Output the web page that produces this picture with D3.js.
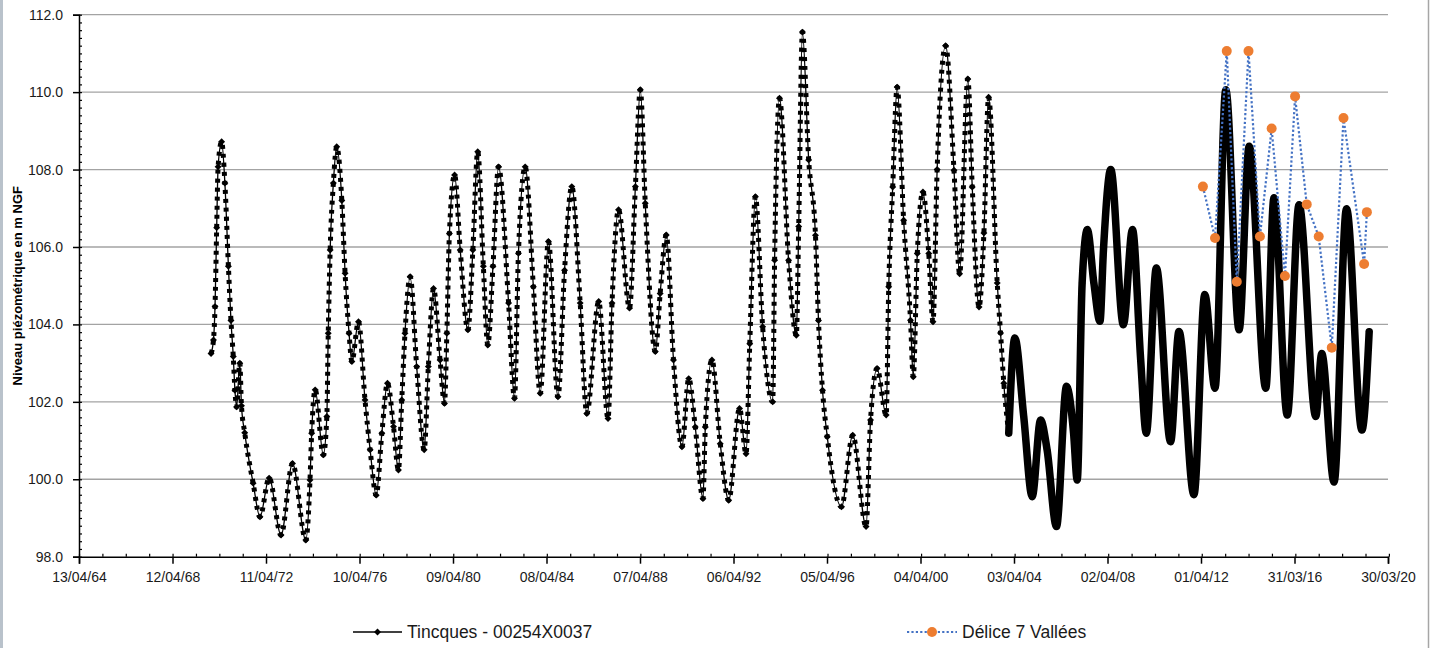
<!DOCTYPE html>
<html>
<head>
<meta charset="utf-8">
<script src="https://cdn.jsdelivr.net/npm/d3@7"></script>
<style>
  body { margin: 0; background: #fff; }
  svg { display: block; font-family: "Liberation Sans", Arial, sans-serif; }
</style>
</head>
<body>
<main></main>
<script>
// Tincques - 00254X0037 : readings (date, level in m NGF)
const tincquesDates = [
  "1969-12-05","1970-01-12","1970-02-05","1970-03-03","1970-03-25","1970-05-19","1970-07-09","1970-09-02",
  "1970-10-12","1970-11-17","1970-12-13","1971-01-08","1971-02-27","1971-03-25","1971-05-15","1971-09-23",
  "1972-01-08","1972-05-30","1972-12-02","1973-05-30","1973-12-24","1974-02-27","1974-03-25","1974-05-19",
  "1974-09-23","1974-11-17","1974-12-09","1975-01-08","1975-02-27","1975-04-20","1975-07-09","1975-08-29",
  "1975-10-30","1975-12-13","1976-03-25","1976-07-05","1976-09-23","1976-12-27","1977-03-25","1977-06-21",
  "1977-09-23","1977-12-09","1978-01-30","1978-03-21","1978-06-10","1978-09-20","1979-01-15","1979-03-21",
  "1979-06-10","1979-09-20","1979-11-28","1980-01-04","1980-02-13","1980-05-04","1980-07-31","1980-11-28",
  "1981-02-13","1981-04-30","1981-07-27","1981-10-04","1981-12-24","1982-03-21","1982-08-25","1982-11-25",
  "1983-01-26","1983-05-11","1983-09-16","1984-01-01","1984-05-08","1984-10-04","1985-01-15","1985-05-08",
  "1985-09-16","1985-12-28","1986-07-02","1986-11-25","1987-01-26","1987-05-08","1987-10-26","1988-01-26",
  "1988-04-12","1988-06-28","1988-12-02","1989-02-16","1989-05-22","1989-09-12","1990-01-22","1990-05-08",
  "1990-08-18","1990-12-16","1991-01-22","1991-05-05","1991-09-12","1992-01-22","1992-07-09","1992-10-19",
  "1992-12-16","1993-03-14","1993-07-05","1993-12-09","1994-01-08","1994-03-25","1994-08-14","1994-12-13",
  "1995-01-19","1995-03-18","1995-06-24","1995-10-08","1995-11-24","1996-01-26","1996-04-09","1996-11-17",
  "1997-05-12","1997-12-06","1998-02-14","1998-05-27","1998-10-16","1998-11-25","1999-01-26","1999-04-05",
  "1999-07-16","1999-10-31","1999-12-13","2000-02-14","2000-05-12","2000-08-11","2000-10-16","2000-12-20",
  "2001-05-01","2001-09-09","2001-12-06","2002-04-13","2002-06-21","2002-10-05","2002-12-20","2003-03-03",
  "2003-07-16","2003-09-06","2003-10-27","2004-01-12","2004-04-16","2004-09-02","2005-01-12","2005-05-23",
  "2005-09-02","2006-01-26","2006-07-02","2006-10-20","2006-12-16","2007-03-03","2007-05-23","2007-09-02",
  "2007-12-06","2008-01-30","2008-05-23","2008-12-06","2009-04-27","2009-09-02","2009-11-28","2010-05-05",
  "2010-12-13","2011-04-23","2011-12-13","2012-05-30","2012-11-06","2013-04-23","2013-11-17","2014-04-23",
  "2015-01-08","2015-05-15","2015-12-09","2016-06-10","2017-02-27","2017-05-30","2017-12-09","2018-06-21",
  "2019-02-16","2019-06-10"
];
const tincquesLevels = [
  103.25,103.6,104.46,106.5,108.07,108.72,107.65,105.5,
  104.1,103.17,102.3,101.87,103.0,101.9,101.2,99.9,
  99.03,100.03,98.56,100.41,98.43,99.98,101.19,102.31,
  100.63,101.62,103.77,105.92,107.65,108.59,107.2,105.32,
  103.77,103.04,104.07,102.05,100.76,99.59,101.19,102.48,
  101.36,100.24,102.05,103.77,105.23,102.91,100.76,102.91,
  104.93,103.08,101.96,103.77,106.35,107.86,105.92,103.86,
  105.92,108.46,105.5,103.47,105.5,108.07,104.55,102.09,
  105.84,108.07,104.97,102.22,106.14,102.13,105.4,107.56,
  104.55,101.7,104.59,101.57,104.55,106.96,104.42,107.56,
  110.06,107.13,103.3,104.8,106.31,103.08,100.84,102.6,
  101.35,99.5,101.35,103.08,100.92,99.46,101.83,100.66,
  103.5,107.3,103.94,102.0,105.66,109.84,105.66,103.72,
  106.53,111.55,108.25,106.3,104.1,102.3,101.1,99.29,
  101.14,98.78,101.53,102.86,101.66,104.97,107.55,110.13,
  106.69,104.11,102.65,105.83,107.42,105.83,104.07,108.0,
  111.2,107.98,105.31,110.34,107.55,104.45,106.36,109.87,
  105.07,103.78,102.48,101.19,103.65,101.62,99.55,101.53,
  100.76,98.78,102.4,101.2,99.98,105.07,106.45,105.07,
  104.08,105.93,108.0,103.99,106.45,103.09,101.19,105.46,
  100.97,103.82,99.6,104.77,102.35,110.06,103.86,108.6,
  102.35,107.27,101.66,107.09,101.62,103.25,99.93,106.99,
  101.27,103.81
];

// Délice 7 Vallées
const deliceDates = [
  "2012-05-01","2012-11-06","2013-05-08","2013-10-12","2014-04-13","2014-10-08","2015-04-09","2015-11-03",
  "2016-04-09","2016-10-08","2017-04-13","2017-11-03","2018-05-05","2019-03-23","2019-05-05"
];
const deliceLevels = [
  107.56,106.23,111.06,105.10,111.06,106.27,109.06,105.25,
  109.89,107.1,106.27,103.40,109.33,105.56,106.9
];

const seriesNames = ["Tincques - 00254X0037", "Délice 7 Vallées"];
const yTitle = "Niveau piézométrique en m NGF";

// axis ticks
const xTickDates = [
  "1964-04-13","1968-04-12","1972-04-11","1976-04-10","1980-04-09","1984-04-08","1988-04-07","1992-04-06",
  "1996-04-05","2000-04-04","2004-04-03","2008-04-02","2012-04-01","2016-03-31","2020-03-30"
];
const yTickValues = [98, 100, 102, 104, 106, 108, 110, 112];

// daily measurements start here: the markers merge into a thick band
const denseFrom = "2004-01-12";

const parse = d3.utcParse("%Y-%m-%d");
const tincques = tincquesDates.map((d, i) => ({ date: parse(d), value: tincquesLevels[i] }));
const delice = deliceDates.map((d, i) => ({ date: parse(d), value: deliceLevels[i] }));
const xTicks = xTickDates.map(parse);

const width = 1431, height = 648;
const plotLeft = 79, plotRight = 1388, plotTop = 14.7, plotBottom = 556.7;

const svg = d3.select("main").append("svg")
  .attr("width", width)
  .attr("height", height);

svg.append("rect").attr("width", width).attr("height", height).attr("fill", "#fff");

// window edges visible in the screenshot
svg.append("rect").attr("x", 0).attr("y", 0).attr("width", 3).attr("height", height).attr("fill", "#b9c2cb");
svg.append("line").attr("x1", 1428.5).attr("x2", 1428.5).attr("y1", 0).attr("y2", height)
  .attr("stroke", "#a6a6a6").attr("stroke-width", 1.5);

const x = d3.scaleUtc()
  .domain([xTicks[0], xTicks[xTicks.length - 1]])
  .range([plotLeft, plotRight]);

const y = d3.scaleLinear()
  .domain([98, 112])
  .range([plotBottom, plotTop]);

// gridlines
svg.append("g").selectAll("line")
  .data(yTickValues.slice(1))
  .enter().append("line")
  .attr("x1", plotLeft).attr("x2", plotRight)
  .attr("y1", d => y(d)).attr("y2", d => y(d))
  .attr("stroke", "#a3a3a3").attr("stroke-width", 1.3);

// minor ticks (inside)
const yMinor = d3.range(98, 112.001, 0.2);
svg.append("g").attr("transform", `translate(${plotLeft},0)`)
  .call(d3.axisLeft(y).tickValues(yMinor).tickSize(-3).tickFormat(""))
  .call(g => g.select(".domain").remove())
  .selectAll("line").attr("stroke", "#000").attr("stroke-width", 1.2);

const xMinor = [];
for (let k = 0; k <= 56; k++) xMinor.push(new Date(xTicks[0].getTime() + k * 365.25 * 864e5));
svg.append("g").attr("transform", `translate(0,${plotBottom})`)
  .call(d3.axisBottom(x).tickValues(xMinor).tickSize(-3).tickFormat(""))
  .call(g => g.select(".domain").remove())
  .selectAll("line").attr("stroke", "#000").attr("stroke-width", 1.2);

// major axes
const yAxis = svg.append("g").attr("transform", `translate(${plotLeft},0)`)
  .call(d3.axisLeft(y).tickValues(yTickValues).tickSize(6).tickPadding(10).tickFormat(d3.format(".1f")));
const xAxis = svg.append("g").attr("transform", `translate(0,${plotBottom})`)
  .call(d3.axisBottom(x).tickValues(xTicks).tickSize(7).tickPadding(8).tickFormat(d3.utcFormat("%d/%m/%y")));

[yAxis, xAxis].forEach(a => {
  a.select(".domain").attr("stroke", "#000").attr("stroke-width", 1.5);
  a.selectAll(".tick line").attr("stroke", "#000").attr("stroke-width", 1.5);
  a.selectAll("text").attr("fill", "#1a1a1a").style("font-size", "14px")
    .style("font-family", "'Liberation Sans', Arial, sans-serif");
});

svg.append("text")
  .attr("transform", `translate(17,${(plotTop + plotBottom) / 2}) rotate(-90)`)
  .attr("text-anchor", "middle")
  .attr("dominant-baseline", "central")
  .style("font-size", "13px").style("font-weight", "bold")
  .text(yTitle);

// Tincques series
const curve = d3.line().curve(d3.curveMonotoneX).x(d => x(d.date)).y(d => y(d.value));
const straight = d3.line().x(d => x(d.date)).y(d => y(d.value));

svg.append("path").datum(tincques)
  .attr("d", curve)
  .attr("fill", "none").attr("stroke", "#000").attr("stroke-width", 1.3);

// beaded overlay standing in for the closely spaced diamond markers
svg.append("path").datum(tincques.filter(d => d.date <= parse(denseFrom)))
  .attr("d", curve)
  .attr("fill", "none").attr("stroke", "#000").attr("stroke-width", 5)
  .attr("stroke-dasharray", "4,5");

svg.append("path").datum(tincques.filter(d => d.date >= parse(denseFrom)))
  .attr("d", curve)
  .attr("fill", "none").attr("stroke", "#000").attr("stroke-width", 7.5)
  .attr("stroke-linejoin", "round").attr("stroke-linecap", "round");

const diamond = d3.symbol(d3.symbolSquare, 24);
svg.append("g").selectAll("path")
  .data(tincques)
  .enter().append("path")
  .attr("d", diamond)
  .attr("transform", d => `translate(${x(d.date)},${y(d.value)}) rotate(45)`)
  .attr("fill", "#000");

// Délice series
svg.append("path").datum(delice)
  .attr("d", straight)
  .attr("fill", "none").attr("stroke", "#4472c4").attr("stroke-width", 2.2)
  .attr("stroke-dasharray", "2.2,2.2");

svg.append("g").selectAll("circle")
  .data(delice)
  .enter().append("circle")
  .attr("cx", d => x(d.date))
  .attr("cy", d => y(d.value))
  .attr("r", 5)
  .attr("fill", "#ed7d31");

// legend
const legend = svg.append("g").style("font-size", "17.5px");
const lg1 = legend.append("g").attr("transform", "translate(353,632)");
lg1.append("line").attr("x1", 0).attr("x2", 49).attr("stroke", "#000").attr("stroke-width", 1.5);
lg1.append("path").attr("d", diamond).attr("transform", "translate(24.5,0) rotate(45)");
lg1.append("text").attr("x", 54).attr("dy", "0.35em").attr("fill", "#1a1a1a").text(seriesNames[0]);

const lg2 = legend.append("g").attr("transform", "translate(907,632)");
lg2.append("line").attr("x1", 0).attr("x2", 50).attr("stroke", "#4472c4").attr("stroke-width", 2.2)
  .attr("stroke-dasharray", "2.2,2.2");
lg2.append("circle").attr("cx", 25).attr("r", 5).attr("fill", "#ed7d31");
lg2.append("text").attr("x", 55).attr("dy", "0.35em").attr("fill", "#1a1a1a").text(seriesNames[1]);
</script>
</body>
</html>
